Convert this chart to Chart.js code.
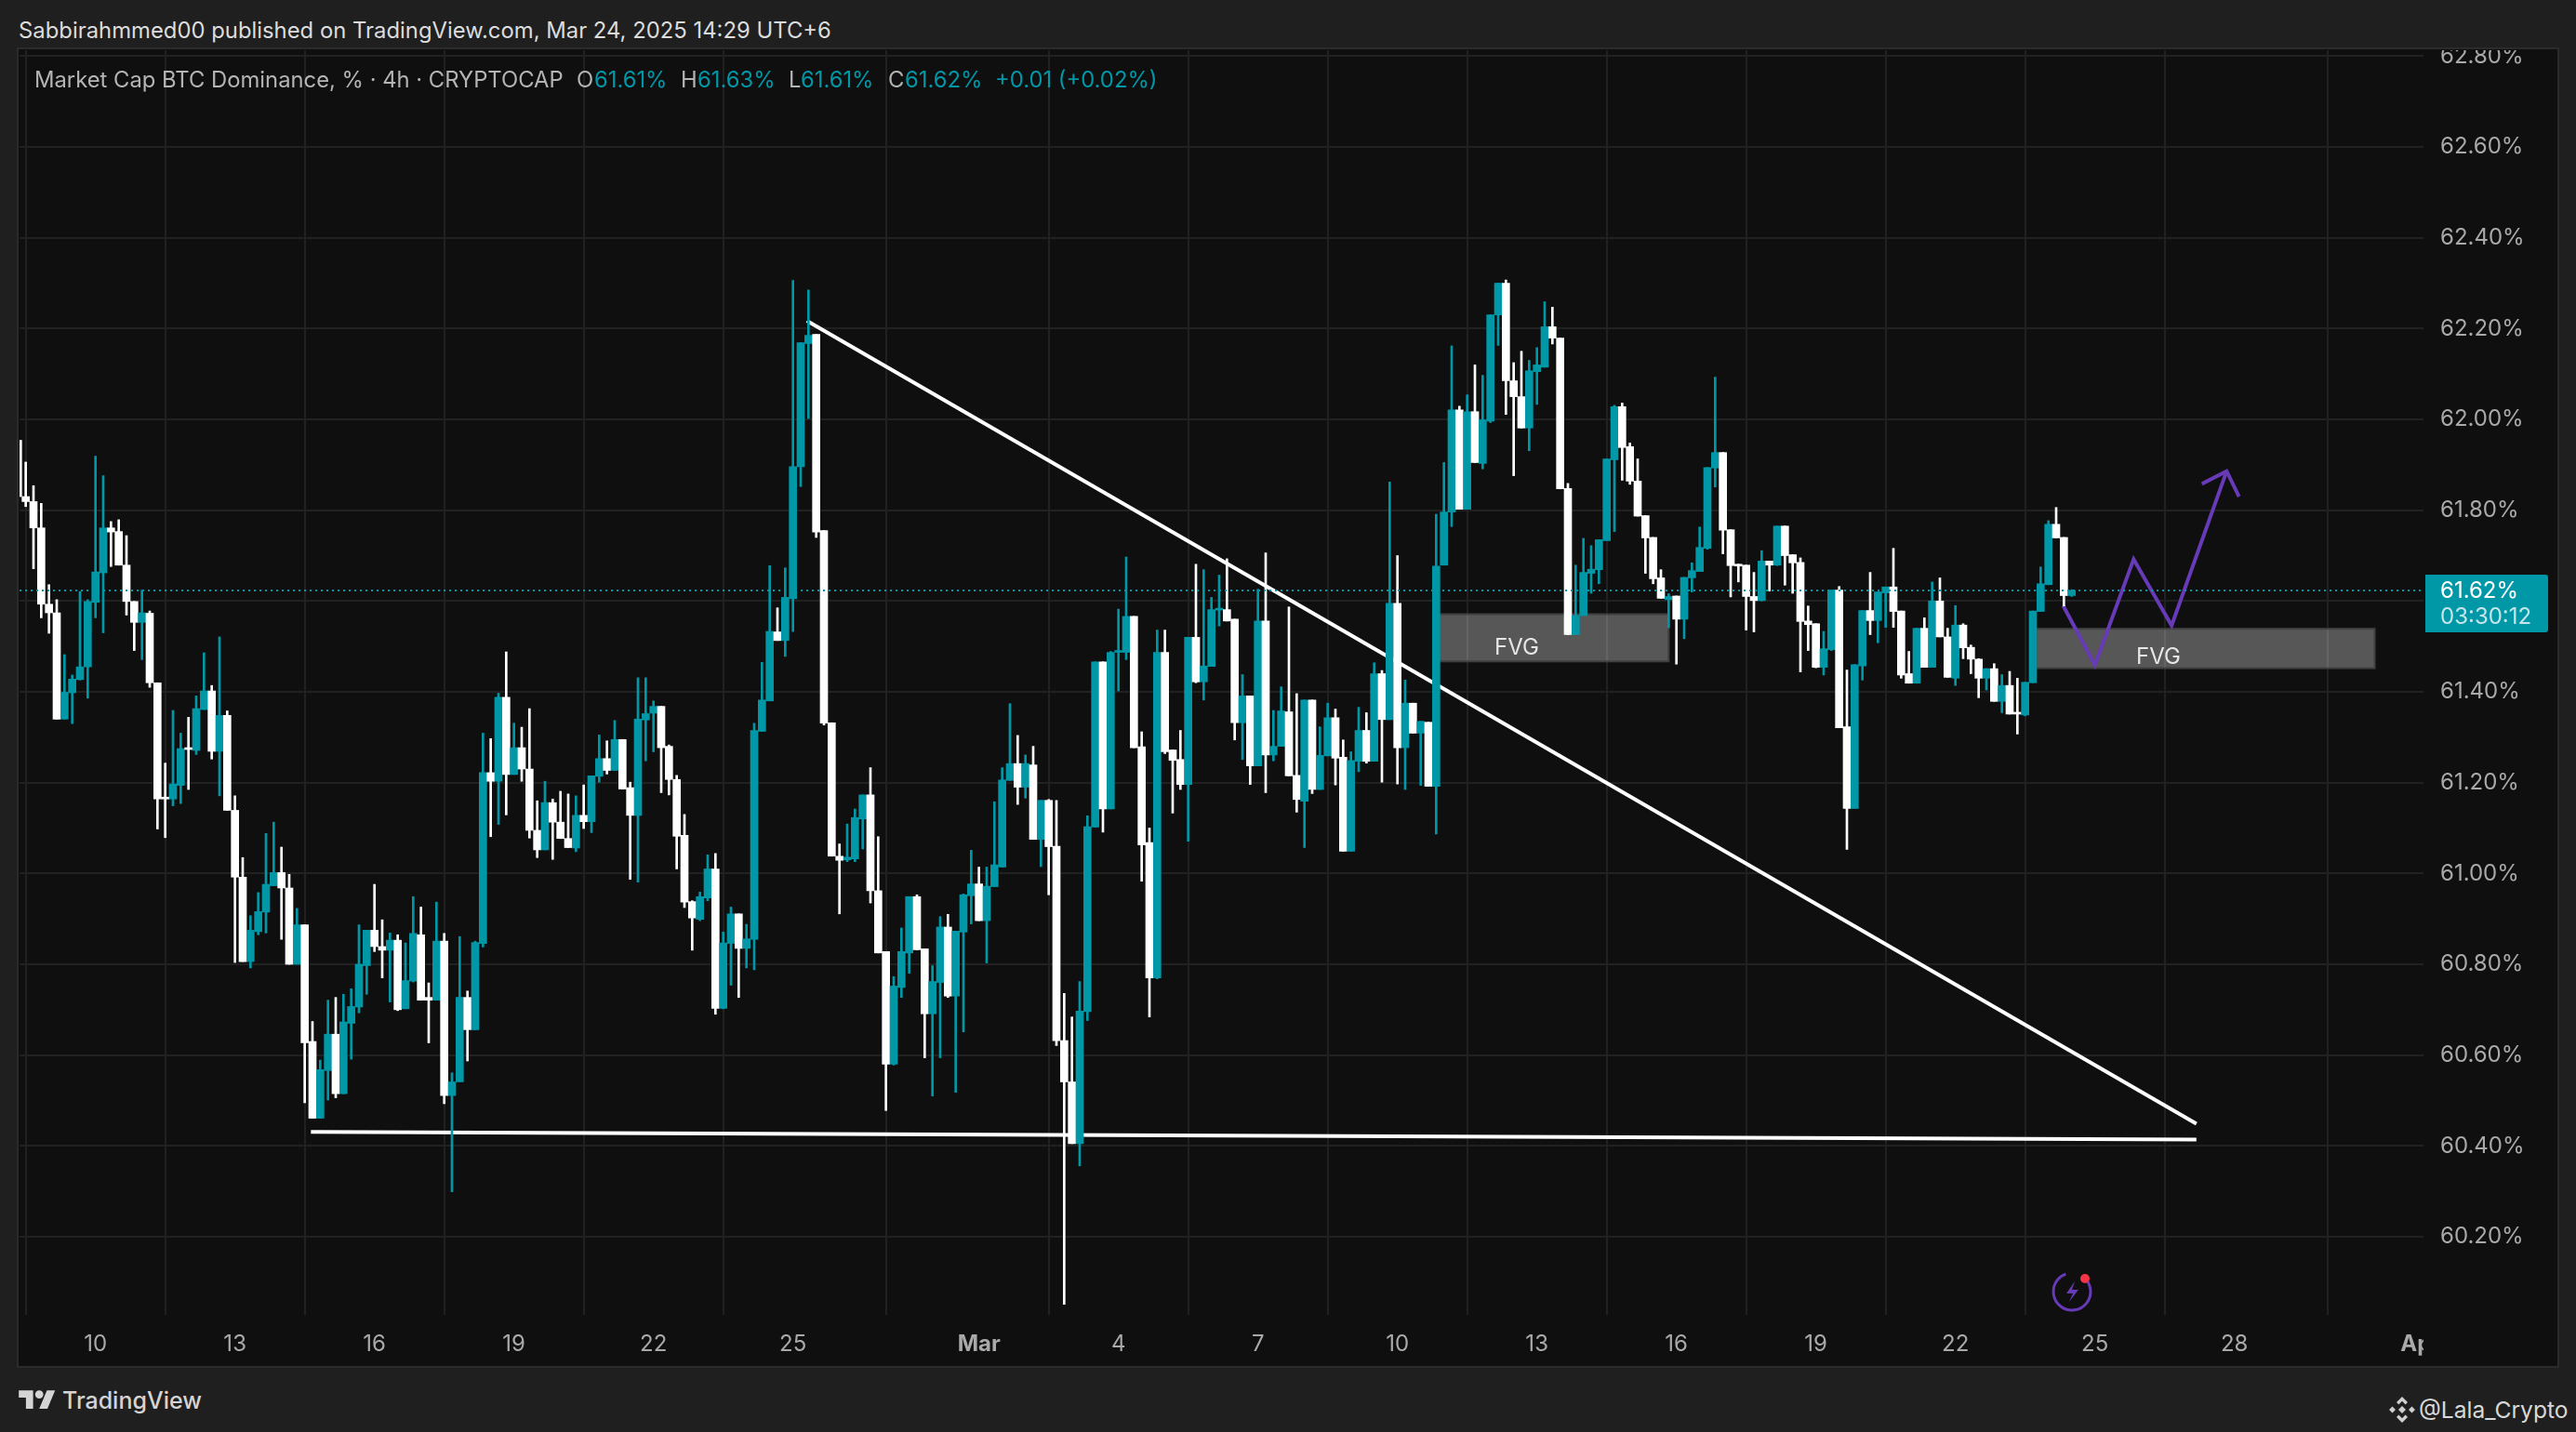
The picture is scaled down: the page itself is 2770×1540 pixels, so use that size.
<!DOCTYPE html>
<html>
<head>
<meta charset="utf-8">
<title>Market Cap BTC Dominance</title>
<script src="https://cdn.jsdelivr.net/npm/chart.js@4/dist/chart.umd.min.js"></script>
<style>
html, body { margin: 0; padding: 0; background: #1f1f1f; width: 2770px; height: 1540px; overflow: hidden; }
body { position: relative; font-family: Inter, sans-serif; }
#panel { position: absolute; left: 20px; top: 53px; width: 2730px; height: 1416px; background: #0f0f0f; box-shadow: 0 0 0 2px #2b2b2b; }
#chart { position: absolute; left: 1px; top: 1px; }
.txt { position: absolute; white-space: pre; line-height: 1; }
.hdr { color: #dcdcdc; font-size: 23.85px; }
.lgd { color: #b4b4b4; font-size: 23.8px; top: 74px; }
.val { color: #0097a7; }
svg { position: absolute; }
</style>
</head>
<body>
<div class="txt hdr" style="left:20px;top:21px">Sabbirahmmed00 published on TradingView.com, Mar 24, 2025 14:29 UTC+6</div>
<div id="panel"><canvas id="chart" width="2729" height="1415"></canvas></div>
<div class="txt lgd" style="left:37px">Market Cap BTC Dominance, % · 4h · CRYPTOCAP</div>
<div class="txt lgd" style="left:620px">O</div><div class="txt lgd val" style="left:639px">61.61%</div>
<div class="txt lgd" style="left:732px">H</div><div class="txt lgd val" style="left:750px">61.63%</div>
<div class="txt lgd" style="left:848px">L</div><div class="txt lgd val" style="left:861px">61.61%</div>
<div class="txt lgd" style="left:955px">C</div><div class="txt lgd val" style="left:973px">61.62%</div>
<div class="txt lgd val" style="left:1070px">+0.01 (+0.02%)</div>
<svg style="left:20px;top:1493px" width="40" height="22" viewBox="0 0 36 20"><path fill="#d4d4d4" d="M14 20H7V9H0V2h14zM28 20h-8l7.5-18h8z"/><circle fill="#d4d4d4" cx="20" cy="6" r="4"/></svg>
<div class="txt" style="left:67px;top:1494px;font-size:25px;font-weight:500;color:#d4d4d4">TradingView</div>
<svg style="left:2569px;top:1502px" width="28" height="28" viewBox="0 0 28 28"><g fill="#cfcfcf"><path d="M14 0l6 6-2.4 2.4L14 4.8l-3.6 3.6L8 6zM14 28l-6-6 2.4-2.4 3.6 3.6 3.6-3.6L20 22zM14 10l4 4-4 4-4-4zM3.5 10.5L7 14l-3.5 3.5L0 14zM24.500 10.500L28 14l-3.500 3.500L21 14z"/></g></svg>
<div class="txt" style="left:2601px;top:1504px;font-size:24.6px;color:#d8d8d8">@Lala_Crypto</div>
<svg style="left:2205px;top:1366px" width="48" height="46" viewBox="0 0 48 46"><circle cx="23" cy="23" r="20" fill="none" stroke="#673ab7" stroke-width="3" stroke-dasharray="105 21" transform="rotate(-52 23 23)"/><path d="M26 12l-9 13h7l-4 9 10-13h-7z" fill="#673ab7"/><circle cx="37" cy="9" r="5" fill="#f23645"/></svg>
<script>
const first_candle = -10;
const opens = [
    61.954,61.830,61.819,61.761,61.593,61.574,61.340,61.398,61.427,61.455,
    61.597,61.662,61.761,61.753,61.679,61.599,61.553,61.573,61.420,61.168,
    61.164,61.194,61.277,61.271,61.361,61.402,61.269,61.348,61.139,60.992,
    60.806,60.872,60.915,60.973,61.002,60.968,60.800,60.887,60.630,60.461,
    60.566,60.646,60.515,60.670,60.706,60.797,60.875,60.839,60.831,60.853,
    60.702,60.763,60.865,60.727,60.721,60.851,60.511,60.541,60.727,60.656,
    60.846,61.222,61.203,61.388,61.218,61.277,61.230,61.095,61.052,61.156,
    61.113,61.077,61.056,61.128,61.114,61.214,61.253,61.227,61.295,61.189,
    61.128,61.338,61.353,61.368,61.280,61.207,61.084,60.938,60.899,60.946,
    61.010,60.703,60.846,60.911,60.835,60.855,61.313,61.380,61.532,61.513,
    61.605,61.896,62.167,62.187,61.755,61.332,61.038,61.030,61.032,61.120,
    61.173,60.962,60.828,60.580,60.749,60.825,60.949,60.834,60.691,60.760,
    60.882,60.730,60.871,60.951,60.977,60.896,60.971,61.014,61.205,61.242,
    61.190,61.239,61.075,61.161,61.060,60.632,60.541,60.405,60.696,61.102,
    61.466,61.142,61.487,61.487,61.566,61.279,61.068,60.770,61.487,61.272,
    61.251,61.196,61.520,61.422,61.456,61.580,61.581,61.560,61.332,61.391,
    61.237,61.556,61.261,61.280,61.356,61.216,61.159,61.382,61.185,61.259,
    61.343,61.256,61.049,61.247,61.315,61.247,61.440,61.339,61.595,61.277,
    61.375,61.309,61.333,61.192,61.679,61.796,62.021,61.802,62.017,61.903,
    61.996,62.230,62.300,62.085,62.050,61.981,62.105,62.115,62.204,62.179,
    61.848,61.526,61.568,61.661,61.669,61.733,61.911,62.028,61.940,61.864,
    61.788,61.740,61.651,61.603,61.611,61.560,61.651,61.665,61.716,61.893,
    61.927,61.757,61.681,61.679,61.610,61.601,61.688,61.679,61.765,61.702,
    61.685,61.556,61.550,61.454,61.493,61.624,61.323,61.143,61.457,61.579,
    61.557,61.618,61.631,61.578,61.440,61.419,61.540,61.454,61.600,61.521,
    61.430,61.547,61.498,61.472,61.430,61.451,61.379,61.414,61.353,61.349,
    61.420,61.577,61.636,61.769,61.740,61.612,
];
const highs = [
    61.954,61.906,61.854,61.815,61.636,61.603,61.482,61.437,61.621,61.603,
    61.919,61.876,61.775,61.779,61.744,61.599,61.624,61.578,61.420,61.243,
    61.359,61.309,61.344,61.391,61.486,61.414,61.521,61.358,61.171,61.035,
    60.907,60.958,61.088,61.113,61.058,60.998,60.923,60.887,60.674,60.589,
    60.721,60.727,60.734,60.746,60.887,60.875,60.976,60.898,60.869,60.865,
    60.847,60.949,60.926,60.759,60.937,60.868,60.561,60.861,60.741,60.851,
    61.309,61.297,61.397,61.488,61.331,61.322,61.363,61.160,61.203,61.164,
    61.181,61.175,61.171,61.195,61.215,61.305,61.292,61.337,61.295,61.201,
    61.431,61.431,61.380,61.368,61.283,61.216,61.130,60.940,60.959,61.041,
    61.044,60.871,60.926,60.911,60.888,61.331,61.465,61.678,61.585,61.673,
    62.306,62.169,62.285,62.187,61.755,61.332,61.065,61.109,61.142,61.173,
    61.233,61.081,60.828,60.773,60.880,60.949,60.953,60.834,60.797,60.905,
    60.910,60.873,60.955,61.051,61.014,61.014,61.158,61.233,61.374,61.304,
    61.261,61.280,61.161,61.163,61.161,60.736,60.684,60.762,61.127,61.466,
    61.466,61.489,61.582,61.697,61.566,61.312,61.100,61.536,61.536,61.272,
    61.315,61.520,61.681,61.669,61.608,61.657,61.693,61.560,61.438,61.391,
    61.626,61.706,61.359,61.411,61.587,61.396,61.382,61.382,61.323,61.375,
    61.362,61.294,61.268,61.366,61.354,61.464,61.447,61.862,61.700,61.426,
    61.375,61.335,61.333,61.791,61.905,62.162,62.029,62.054,62.120,62.097,
    62.230,62.300,62.307,62.125,62.150,62.130,62.158,62.259,62.247,62.179,
    61.859,61.679,61.738,61.722,61.735,61.913,62.031,62.036,61.948,61.913,
    61.788,61.740,61.669,61.616,61.611,61.652,61.684,61.763,61.894,62.093,
    61.927,61.757,61.681,61.679,61.663,61.711,61.688,61.765,61.765,61.702,
    61.695,61.589,61.550,61.533,61.624,61.632,61.448,61.460,61.579,61.663,
    61.620,61.631,61.716,61.578,61.489,61.540,61.563,61.642,61.651,61.540,
    61.590,61.550,61.503,61.473,61.451,61.462,61.438,61.445,61.430,61.421,
    61.578,61.675,61.777,61.806,61.740,61.625,
];
const lows = [
    61.830,61.808,61.671,61.563,61.529,61.340,61.340,61.330,61.426,61.386,
    61.563,61.530,61.676,61.679,61.569,61.491,61.471,61.410,61.098,61.079,
    61.149,61.154,61.185,61.262,61.361,61.252,61.171,61.139,60.804,60.806,
    60.792,60.865,60.869,60.973,60.855,60.800,60.800,60.495,60.461,60.461,
    60.501,60.506,60.515,60.591,60.693,60.734,60.828,60.770,60.717,60.698,
    60.702,60.761,60.721,60.627,60.721,60.493,60.299,60.541,60.587,60.656,
    60.838,61.081,61.108,61.129,61.218,61.203,61.078,61.035,61.052,61.031,
    61.077,61.057,61.048,61.099,61.090,61.201,61.219,61.227,61.186,60.987,
    60.981,61.248,61.268,61.178,61.173,61.010,60.925,60.831,60.896,60.940,
    60.690,60.702,60.754,60.727,60.792,60.788,61.313,61.380,61.513,61.478,
    61.533,61.852,62.002,61.740,61.327,61.038,60.911,61.026,61.026,61.054,
    60.935,60.825,60.478,60.578,60.727,60.780,60.832,60.594,60.510,60.594,
    60.727,60.518,60.651,60.889,60.896,60.803,60.971,61.014,61.205,61.152,
    61.166,61.075,61.015,60.953,60.621,60.051,60.405,60.356,60.676,61.102,
    61.091,61.142,61.402,61.471,61.277,60.983,60.684,60.768,61.264,61.133,
    61.185,61.071,61.420,61.382,61.456,61.545,61.556,61.294,61.251,61.196,
    61.237,61.178,61.248,61.280,61.215,61.135,61.057,61.176,61.185,61.259,
    61.195,61.049,61.049,61.224,61.243,61.247,61.201,61.339,61.197,61.185,
    61.309,61.194,61.192,61.087,61.679,61.764,61.802,61.802,61.905,61.891,
    61.993,62.163,62.011,61.876,61.981,61.931,62.033,62.115,62.166,61.847,
    61.526,61.526,61.568,61.617,61.638,61.733,61.753,61.866,61.857,61.787,
    61.661,61.638,61.606,61.541,61.461,61.517,61.620,61.665,61.714,61.851,
    61.704,61.609,61.642,61.536,61.532,61.600,61.622,61.678,61.635,61.617,
    61.444,61.491,61.453,61.437,61.491,61.321,61.053,61.143,61.426,61.526,
    61.508,61.542,61.542,61.430,61.419,61.419,61.454,61.454,61.521,61.432,
    61.414,61.473,61.440,61.387,61.404,61.379,61.354,61.351,61.307,61.347,
    61.420,61.577,61.636,61.739,61.589,61.610,
];
const closes = [
    61.830,61.819,61.761,61.593,61.574,61.340,61.399,61.428,61.455,61.599,
    61.664,61.761,61.752,61.679,61.599,61.553,61.574,61.420,61.164,61.164,
    61.197,61.275,61.273,61.363,61.402,61.269,61.348,61.139,60.992,60.806,
    60.875,60.916,60.976,61.002,60.968,60.800,60.887,60.627,60.461,60.568,
    60.646,60.515,60.673,60.707,60.800,60.875,60.839,60.831,60.853,60.700,
    60.764,60.868,60.721,60.721,60.851,60.511,60.541,60.727,60.656,60.848,
    61.222,61.203,61.388,61.218,61.277,61.230,61.095,61.052,61.156,61.113,
    61.077,61.057,61.128,61.114,61.215,61.253,61.227,61.295,61.186,61.128,
    61.340,61.352,61.368,61.277,61.207,61.082,60.937,60.902,60.949,61.010,
    60.703,60.847,60.911,60.835,60.856,61.315,61.382,61.533,61.513,61.608,
    61.896,62.169,62.185,61.752,61.331,61.038,61.029,61.036,61.123,61.173,
    60.962,60.825,60.580,60.752,60.828,60.949,60.832,60.691,60.762,60.882,
    60.730,60.873,60.953,60.977,60.896,60.972,61.019,61.206,61.242,61.190,
    61.242,61.075,61.161,61.059,60.632,60.541,60.405,60.697,61.103,61.466,
    61.142,61.487,61.490,61.566,61.277,61.063,60.770,61.487,61.268,61.249,
    61.196,61.520,61.422,61.457,61.581,61.582,61.556,61.332,61.391,61.237,
    61.556,61.261,61.280,61.358,61.215,61.163,61.382,61.185,61.260,61.343,
    61.254,61.049,61.249,61.315,61.247,61.440,61.339,61.595,61.277,61.375,
    61.309,61.335,61.192,61.677,61.796,62.021,61.802,62.017,61.905,61.999,
    62.230,62.300,62.085,62.050,61.981,62.107,62.120,62.204,62.179,61.847,
    61.526,61.568,61.663,61.670,61.735,61.913,62.028,61.938,61.864,61.787,
    61.739,61.649,61.606,61.610,61.560,61.652,61.667,61.718,61.894,61.927,
    61.756,61.678,61.677,61.610,61.601,61.688,61.679,61.765,61.700,61.684,
    61.555,61.548,61.454,61.495,61.624,61.321,61.143,61.460,61.579,61.557,
    61.620,61.631,61.577,61.437,61.419,61.540,61.454,61.600,61.521,61.432,
    61.547,61.497,61.472,61.430,61.451,61.379,61.414,61.351,61.351,61.421,
    61.578,61.638,61.769,61.739,61.612,61.623,
];

const tick_candles = [0, 18, 36, 54, 72, 90, 114, 132, 150, 168, 186, 204, 222, 240, 258, 276, 300];
const tick_labels = ["10", "13", "16", "19", "22", "25", "Mar", "4", "7", "10", "13", "16", "19", "22", "25", "28", "Apr"];
const price_ticks = [60.2, 60.4, 60.6, 60.8, 61.0, 61.2, 61.4, 61.6, 61.8, 62.0, 62.2, 62.4, 62.6, 62.8];

const x_min = -9.8;
const x_max = 300.4;
const y_min = 60.028;
const y_max = 62.813;

const last_price = 61.623;
const last_price_text = "61.62%";
const countdown_text = "03:30:12";

const trend_down_x = [91.8, 271.1];
const trend_down_y = [62.217, 60.449];
const support_x = [27.8, 271.1];
const support_y = [60.431, 60.414];
const path_x = [253.9, 258.0, 263.0, 267.9, 275.0];
const path_y = [61.590, 61.459, 61.692, 61.546, 61.886];
const arrow_x = [271.8, 275.0, 276.6];
const arrow_y = [61.858, 61.886, 61.830];

const fvg_x0 = [173.0, 250.4];
const fvg_x1 = [203.0, 294.1];
const fvg_top = [61.571, 61.539];
const fvg_bottom = [61.467, 61.452];
const fvg_text_x = [183.4, 266.2];
const fvg_text_y = [61.498, 61.478];

const TEAL = "#0097a7";
const WHITE = "#ffffff";
const PANEL = "#0f0f0f";
const GRID = "#212121";
const AXIS_TEXT = "#a9a9a9";
const FONT = "Inter, sans-serif";

const candle_colors = closes.map((c, i) => (c >= opens[i]) ? TEAL : WHITE);

function xy_points(xs, ys) {
    return xs.map((x, i) => ({ x: x, y: ys[i] }));
}

function line_dataset(xs, ys, color, order) {
    return {
        type: "line",
        data: xy_points(xs, ys),
        borderColor: color,
        borderWidth: 4,
        pointRadius: 0,
        tension: 0,
        order: order,
    };
}

// chart.js keeps room for the outer tick labels, the plot must fill the panel here
function no_label_margins(scale) {
    scale.paddingTop = 0;
    scale.paddingBottom = 0;
    scale.paddingLeft = 0;
    scale.paddingRight = 0;
}

const price_line = line_dataset([x_min, x_max], [last_price, last_price], TEAL, 0);
price_line.borderWidth = 2;
price_line.borderDash = [2, 4];

const annotation_plugin = {
    id: "annotations",
    beforeDatasetsDraw(chart) {
        const { ctx, scales: { x, y } } = chart;
        ctx.save();
        for (let i = 0; i < fvg_x0.length; i++) {
            const left = x.getPixelForValue(fvg_x0[i]);
            const right = x.getPixelForValue(fvg_x1[i]);
            const top = y.getPixelForValue(fvg_top[i]);
            const bottom = y.getPixelForValue(fvg_bottom[i]);
            ctx.fillStyle = "rgba(255,255,255,0.3)";
            ctx.fillRect(left, top, right - left, bottom - top);
            ctx.strokeStyle = "#404040";
            ctx.lineWidth = 2;
            ctx.strokeRect(left, top, right - left, bottom - top);
            ctx.fillStyle = "#e6e6e6";
            ctx.font = `24px ${FONT}`;
            ctx.textAlign = "center";
            ctx.textBaseline = "middle";
            ctx.fillText("FVG", x.getPixelForValue(fvg_text_x[i]), y.getPixelForValue(fvg_text_y[i]) + 1);
        }
        ctx.restore();
    },
    afterDraw(chart) {
        const { ctx, chartArea, scales: { y } } = chart;
        ctx.save();
        // the time axis cuts the last label at the edge of the plot
        ctx.fillStyle = PANEL;
        ctx.fillRect(chartArea.right, chartArea.bottom, 144, 55);

        const mid = y.getPixelForValue(last_price);
        const left = chartArea.right + 2;
        ctx.fillStyle = TEAL;
        ctx.beginPath();
        ctx.roundRect(left, mid - 17, 132, 62, [0, 3, 3, 0]);
        ctx.fill();
        ctx.textAlign = "left";
        ctx.textBaseline = "middle";
        ctx.font = `24px ${FONT}`;
        ctx.fillStyle = WHITE;
        ctx.fillText(last_price_text, chartArea.right + 18, mid + 1);
        ctx.fillStyle = "#c4e5e9";
        ctx.fillText(countdown_text, chartArea.right + 18, mid + 29);
        ctx.restore();
    },
};

const chart_canvas = document.getElementById("chart");
const chart = new Chart(chart_canvas, {
    type: "bar",
    data: {
        datasets: [
            price_line,
            {
                data: closes.map((c, i) => ({ x: i + first_candle, y: [opens[i], c] })),
                backgroundColor: candle_colors,
                barThickness: 8,
                minBarLength: 2,
                grouped: false,
                order: 1,
            },
            {
                data: highs.map((h, i) => ({ x: i + first_candle, y: [lows[i], h] })),
                backgroundColor: candle_colors,
                barThickness: 2,
                grouped: false,
                order: 2,
            },
            line_dataset(trend_down_x, trend_down_y, "#ffffff", 3),
            line_dataset(support_x, support_y, "#ffffff", 3),
            line_dataset(path_x, path_y, "#673ab7", 3),
            line_dataset(arrow_x, arrow_y, "#673ab7", 3),
        ],
    },
    options: {
        responsive: false,
        devicePixelRatio: 1,
        animation: false,
        layout: { padding: 0 },
        plugins: {
            legend: { display: false },
            title: { display: false },
            tooltip: { enabled: false },
        },
        scales: {
            x: {
                type: "linear",
                min: x_min,
                max: x_max,
                offset: false,
                afterBuildTicks(scale) {
                    scale.ticks = tick_candles.map(v => ({ value: v }));
                },
                afterFit(scale) {
                    scale.height = 55;
                    no_label_margins(scale);
                },
                grid: { color: GRID, lineWidth: 2, drawTicks: false },
                border: { display: false },
                ticks: {
                    autoSkip: false,
                    maxRotation: 0,
                    padding: 17,
                    color: AXIS_TEXT,
                    font: ctx => ({
                        family: FONT,
                        size: 24,
                        weight: isNaN(Number(tick_labels[ctx.index])) ? "bold" : "normal",
                    }),
                    callback: (value) => tick_labels[tick_candles.indexOf(value)],
                },
            },
            y: {
                position: "right",
                min: y_min,
                max: y_max,
                afterBuildTicks(scale) {
                    scale.ticks = price_ticks.map(v => ({ value: v }));
                },
                afterFit(scale) {
                    scale.width = 144;
                    no_label_margins(scale);
                },
                grid: { color: GRID, lineWidth: 2, drawTicks: false },
                border: { display: false },
                ticks: {
                    padding: 18,
                    color: AXIS_TEXT,
                    font: { family: FONT, size: 24 },
                    callback: (value) => value.toFixed(2) + "%",
                },
            },
        },
    },
    plugins: [annotation_plugin],
});
</script>
</body>
</html>
